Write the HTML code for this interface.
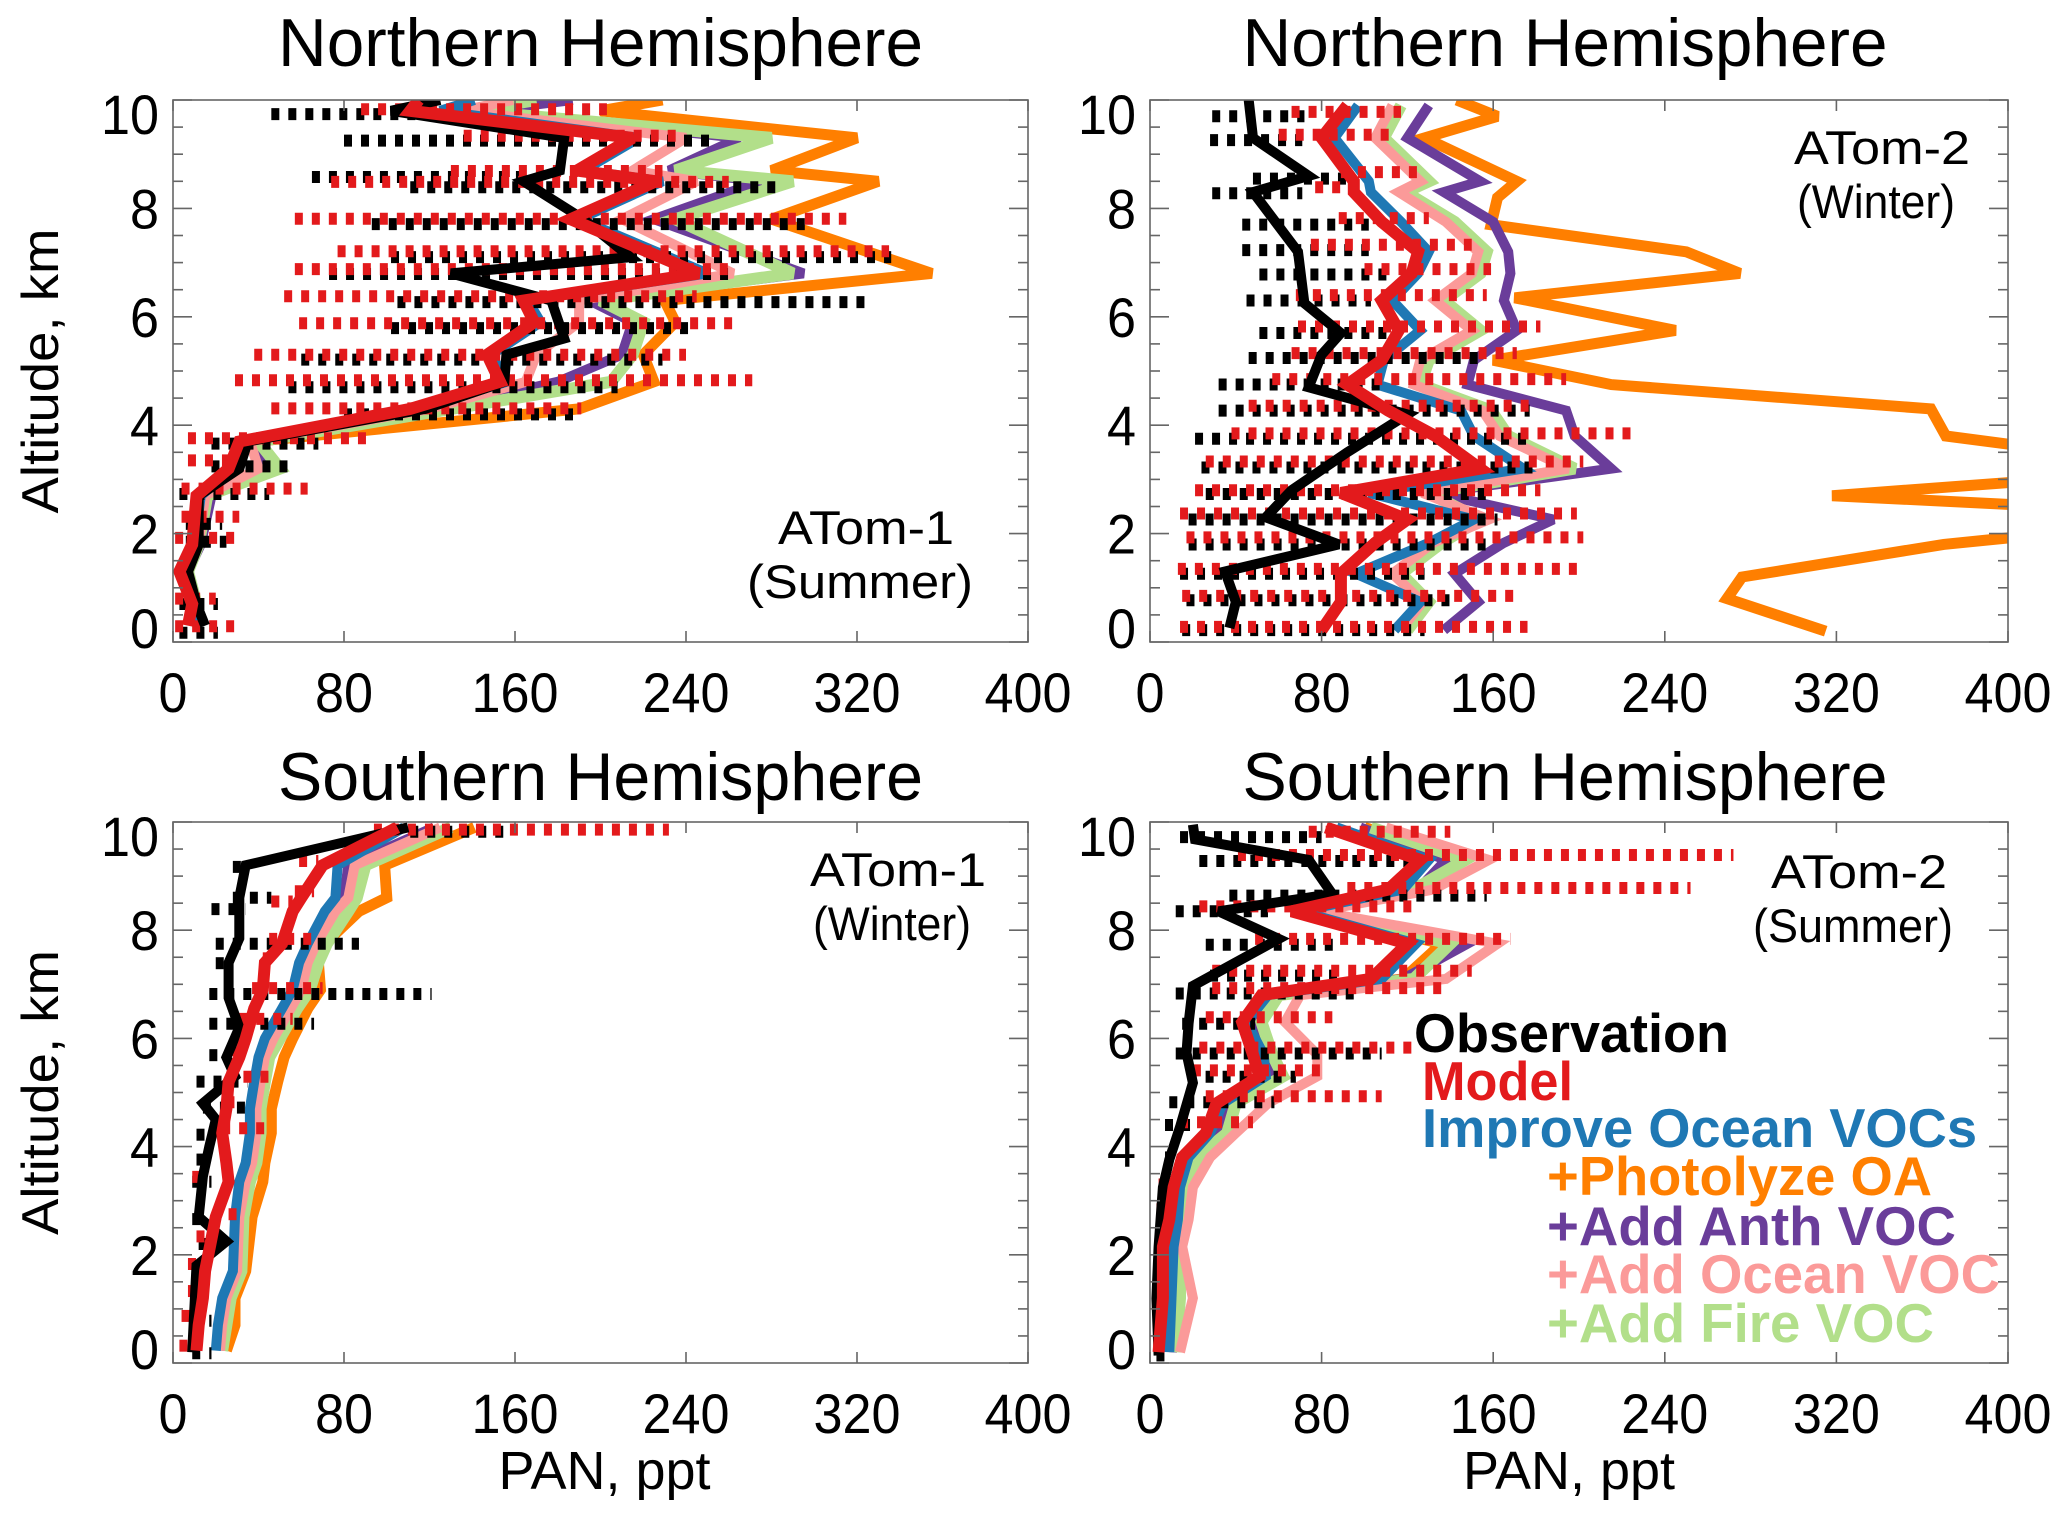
<!DOCTYPE html>
<html><head><meta charset="utf-8"><title>PAN profiles</title>
<style>
html,body{margin:0;padding:0;background:#fff;}
svg{display:block;font-family:"Liberation Sans",Arial,sans-serif;}
</style></head>
<body>
<svg id="fig" width="2067" height="1519" viewBox="0 0 2067 1519" xmlns="http://www.w3.org/2000/svg">
<rect x="0" y="0" width="2067" height="1519" fill="#fff"/>
</svg>
<script>
// ---------- Shared tick data ----------
const xTicks = [0, 80, 160, 240, 320, 400];
const yTicks = [0, 2, 4, 6, 8, 10];

// ---------- Panel 1: NH ATom-1 (Summer) ----------
const p1Alt = [10.0, 9.8, 9.3, 8.7, 8.5, 7.8, 6.8, 6.3, 5.9, 5.3, 4.8, 4.3, 3.7, 3.2, 2.7, 1.8, 1.3, 0.7, 0.3];
const p1Model = [115, 111, 215, 189, 226, 186, 246, 164, 169, 147, 153, 111, 31, 26, 11, 9, 3, 9, 7];
const p1Ocean = [141, 125, 218, 192, 229, 190, 250, 166, 172, 149, 156, 115, 33, 28, 13, 10, 5, 10, 9];
const p1Photo = [229, 200, 320, 280, 330, 280, 355, 230, 235, 220, 225, 190, 38, 45, 16, 12, 7, 11, 9];
const p1Anth = [187, 145, 265, 232, 275, 225, 295, 195, 215, 210, 180, 125, 38, 45, 18, 13, 7, 11, 9];
const p1OceanVoc = [159, 135, 240, 215, 245, 210, 262, 190, 190, 170, 165, 120, 36, 40, 15, 12, 6, 11, 9];
const p1Fire = [170, 140, 280, 235, 290, 235, 290, 200, 220, 215, 205, 130, 40, 50, 16, 12, 7, 11, 9];
const p1ObsAlt = [10.0, 9.8, 9.3, 8.7, 8.5, 7.8, 7.1, 6.8, 6.3, 5.6, 5.3, 4.8, 4.3, 3.7, 3.2, 2.7, 1.8, 1.3, 0.7, 0.3];
const p1Obs = [125, 102, 183, 181, 164, 192, 214, 130, 177, 183, 156, 155, 118, 35, 31, 12, 12, 7, 11, 15];
const p1ObsRangeAlt = [9.74, 9.25, 8.58, 8.39, 7.71, 7.1, 6.79, 6.27, 5.79, 5.21, 4.70, 4.2, 3.66, 3.24, 2.73, 2.18, 1.85, 0.7, 0.17];
const p1ObsLo = [46, 80, 65, 111, 93, 102, 73, 105, 102, 60, 54, 80, 18, 18, 3, 6, 6, 3, 3];
const p1ObsHi = [124, 251, 167, 282, 299, 336, 263, 324, 243, 229, 208, 189, 68, 57, 45, 23, 25, 21, 21];
const p1ModRangeAlt = [9.83, 9.34, 8.69, 8.49, 7.81, 7.21, 6.88, 6.38, 5.88, 5.30, 4.83, 4.31, 3.76, 3.35, 2.83, 2.31, 1.92, 0.8, 0.29];
const p1ModLo = [88, 136, 130, 74, 57, 77, 57, 52, 59, 38, 29, 46, 7, 7, 4, 4, 1, 1, 1];
const p1ModHi = [203, 236, 229, 260, 315, 335, 263, 245, 262, 240, 271, 191, 91, 26, 63, 31, 29, 20, 29];

// ---------- Panel 2: NH ATom-2 (Winter) ----------
const p2Alt = [9.9, 9.3, 8.5, 8.3, 7.75, 7.2, 6.8, 6.3, 5.75, 5.2, 4.75, 4.27, 3.8, 3.2, 2.75, 2.26, 1.83, 1.26, 0.74, 0.22];
const p2Model = [92, 80, 95, 95, 108, 125, 122, 108, 116, 108, 92, 111, 133, 154, 89, 120, 105, 89, 89, 80];
const p2Ocean = [97, 86, 102, 103, 117, 130, 125, 113, 126, 109, 106, 145, 151, 174, 102, 151, 130, 96, 126, 114];
const p2Anth = [130, 120, 154, 137, 160, 167, 168, 165, 171, 151, 148, 194, 198, 215, 133, 188, 165, 142, 153, 137];
const p2OceanVoc = [113, 105, 126, 116, 138, 153, 150, 133, 150, 126, 123, 155, 163, 195, 127, 158, 132, 113, 127, 117];
const p2Fire = [117, 109, 130, 119, 142, 157, 154, 137, 154, 130, 126, 159, 167, 198, 130, 154, 136, 117, 130, 120];
const p2PhotoAlt = [10.0, 9.7, 9.3, 8.5, 8.2, 7.7, 7.2, 6.8, 6.35, 5.75, 5.2, 4.75, 4.3, 3.8, 3.6, 3.0, 2.7, 2.5, 2.0, 1.8, 1.2, 0.8, 0.2];
const p2Photo = [143, 162, 128, 171, 162, 159, 250, 275, 170, 245, 160, 215, 364, 371, 410, 420, 318, 420, 420, 370, 276, 269, 315];
const p2ObsAlt = [10.0, 9.3, 8.6, 8.3, 7.2, 6.25, 5.7, 5.3, 4.7, 4.2, 3.5, 2.8, 2.3, 1.8, 1.3, 0.74, 0.26];
const p2Obs = [46, 48, 74, 48, 69, 72, 89, 80, 74, 120, 92, 66, 54, 88, 35, 40, 37];
const p2ObsRangeAlt = [9.7, 9.26, 8.55, 8.28, 7.7, 7.23, 6.78, 6.3, 5.7, 5.24, 4.75, 4.27, 3.75, 3.22, 2.73, 2.26, 1.8, 1.26, 0.77, 0.22];
const p2ObsLo = [29, 28, 48, 29, 43, 43, 51, 45, 51, 46, 32, 32, 21, 24, 26, 18, 18, 14, 17, 15];
const p2ObsHi = [72, 71, 92, 71, 102, 102, 111, 103, 114, 153, 111, 177, 176, 179, 157, 162, 160, 128, 142, 128];
const p2ModRangeAlt = [9.78, 9.36, 8.67, 8.39, 7.82, 7.33, 6.88, 6.4, 5.82, 5.33, 4.85, 4.36, 3.85, 3.33, 2.8, 2.37, 1.93, 1.35, 0.85, 0.28];
const p2ModLo = [66, 60, 89, 77, 88, 75, 100, 68, 69, 66, 57, 46, 38, 26, 21, 14, 17, 13, 15, 14];
const p2ModHi = [117, 114, 125, 96, 130, 150, 159, 157, 182, 171, 194, 177, 224, 202, 182, 199, 202, 199, 171, 176];

// ---------- Panel 3: SH ATom-1 (Winter) ----------
const p3Alt = [9.9, 9.2, 8.6, 8.35, 7.75, 7.4, 6.9, 6.55, 6.0, 5.65, 5.2, 4.7, 4.25, 3.7, 3.35, 2.7, 1.7, 1.2, 0.7, 0.23];
const p3Model = [105, 70, 60, 56, 51, 43, 42, 38, 34, 31, 26, 25, 23, 25, 26, 20, 15, 14, 12, 11];
const p3Ocean = [108, 77, 76, 71, 63, 59, 56, 51, 43, 40, 38, 36, 36, 34, 31, 29, 28, 23, 21, 20];
const p3Photo = [141, 99, 100, 87, 71, 68, 69, 63, 56, 52, 49, 46, 46, 43, 42, 37, 34, 29, 29, 25];
const p3Anth = [122, 82, 80, 74, 66, 62, 59, 54, 46, 42, 41, 39, 39, 37, 34, 31, 30, 25, 23, 22];
const p3OceanVoc = [125, 85, 82, 76, 67, 63, 60, 55, 47, 43, 41, 39, 39, 37, 34, 31, 30, 25, 23, 22];
const p3Fire = [130, 90, 86, 82, 72, 68, 64, 58, 50, 45, 43, 41, 41, 39, 36, 33, 32, 27, 25, 23];
const p3ObsAlt = [9.9, 9.2, 8.6, 7.85, 7.4, 6.75, 6.2, 5.65, 5.3, 4.8, 4.5, 4.0, 3.45, 2.7, 2.25, 1.8, 0.2];
const p3Obs = [110, 34, 31, 31, 26, 26, 31, 25, 29, 14, 20, 17, 14, 12, 25, 11, 9];
const p3ObsRangeAlt = [9.82, 9.17, 8.6, 8.39, 7.75, 7.39, 6.82, 6.27, 5.69, 5.2, 4.72, 4.22, 3.76, 3.35, 2.66, 2.2, 1.79, 0.78, 0.18];
const p3ObsLo = [111, 28, 28, 18, 20, 20, 17, 17, 17, 11, 14, 11, 11, 9, 9, 12, 9, 9, 9];
const p3ObsHi = [155, 31, 46, 34, 87, 23, 121, 66, 21, 35, 35, 14, 18, 18, 12, 26, 12, 18, 18];
const p3ModRangeAlt = [9.86, 9.28, 8.72, 8.53, 7.84, 7.48, 6.93, 6.36, 5.78, 5.29, 4.82, 4.34, 3.44, 2.75, 2.34, 1.83, 1.33, 0.87, 0.32];
const p3ModLo = [94, 59, 57, 46, 45, 42, 37, 31, 26, 25, 25, 23, 9, 26, 11, 7, 7, 4, 3];
const p3ModHi = [232, 68, 66, 56, 68, 45, 70, 56, 28, 48, 26, 45, 17, 26, 11, 7, 7, 4, 3];

// ---------- Panel 4: SH ATom-2 (Summer) ----------
const p4Alt = [9.9, 9.3, 8.75, 8.35, 7.75, 7.1, 6.8, 6.3, 5.7, 5.3, 4.8, 4.25, 3.8, 3.25, 2.65, 2.15, 1.2, 0.2];
const p4Model = [82, 126, 111, 66, 120, 103, 52, 43, 48, 51, 31, 26, 15, 11, 9, 6, 6, 4];
const p4Ocean = [87, 130, 118, 70, 124, 108, 55, 45, 53, 54, 34, 28, 18, 14, 13, 11, 10, 9];
const p4Photo = [100, 146, 125, 73, 136, 118, 60, 50, 55, 62, 38, 33, 20, 16, 14, 12, 12, 10];
const p4Anth = [98, 138, 125, 73, 148, 118, 58, 48, 55, 58, 38, 33, 20, 16, 14, 12, 12, 10];
const p4OceanVoc = [110, 158, 132, 78, 162, 138, 70, 63, 78, 78, 55, 40, 28, 20, 18, 15, 20, 14];
const p4Fire = [103, 147, 123, 75, 140, 123, 60, 52, 57, 62, 40, 36, 22, 18, 16, 14, 14, 12];
const p4ObsAlt = [9.95, 9.68, 9.3, 8.67, 8.35, 7.84, 6.97, 6.28, 5.73, 5.18, 4.36, 3.76, 3.25, 2.15, 1.19, 0.14];
const p4Obs = [20, 21, 74, 85, 32, 60, 20, 18, 17, 20, 14, 9, 6, 4, 3, 4];
const p4ObsRangeAlt = [9.72, 9.28, 8.64, 8.35, 7.73, 7.16, 6.83, 6.27, 5.72, 5.29, 4.82, 4.4, 3.8, 3.26, 0.14];
const p4ObsLo = [14, 23, 37, 12, 26, 28, 12, 15, 12, 18, 9, 7, 7, 5, 3];
const p4ObsHi = [80, 122, 157, 55, 86, 91, 96, 49, 108, 68, 58, 21, 11, 5, 6];
const p4ModRangeAlt = [9.82, 9.39, 8.78, 8.44, 7.84, 7.25, 6.93, 6.39, 5.83, 5.41, 4.93, 4.45, 3.3, 2.84, 2.34, 1.88, 0.32];
const p4ModLo = [74, 41, 92, 23, 49, 29, 29, 26, 23, 20, 26, 14, 4, 3, 3, 3, 3];
const p4ModHi = [140, 272, 252, 122, 168, 150, 136, 85, 123, 82, 108, 48, 4, 3, 3, 3, 3];

// ---------- Drawing ----------
const NS = 'http://www.w3.org/2000/svg';
const svg = document.getElementById('fig');
const COL = {obs:'#000000', model:'#e31a1c', ocean:'#1f78b4', photo:'#ff7f00', anth:'#6a3d9a', oceanvoc:'#fb9a99', fire:'#b2df8a'};

function mk(tag, attrs, parent) {
  const e = document.createElementNS(NS, tag);
  for (const k in attrs) e.setAttribute(k, attrs[k]);
  (parent || svg).appendChild(e);
  return e;
}
function txt(str, attrs, parent) {
  const t = mk('text', attrs, parent);
  t.textContent = str;
  return t;
}

function drawPanel(P) {
  const g = mk('g', {});
  
  
  const xS = v => P.x0 + (v / 400) * (P.x1 - P.x0);
  const yS = a => P.y1 - (a / 10) * (P.y1 - P.y0);

  const cid = 'clip-' + P.name;
  const cp = mk('clipPath', {id: cid}, g);
  mk('rect', {x: P.x0, y: P.y0, width: P.x1 - P.x0, height: P.y1 - P.y0}, cp);
  const plot = mk('g', {'clip-path': 'url(#' + cid + ')'}, g);
  
  

  function line(alts, vals, color, w, nm) {
    const pts = vals.map((v, i) => xS(v).toFixed(1) + ',' + yS(alts[i]).toFixed(1)).join(' ');
    const pl = mk('polyline', {points: pts, fill: 'none', stroke: color, 'stroke-width': w, 'stroke-linejoin': 'miter', 'stroke-miterlimit': 3}, plot);
    
    
  }
  function ranges(alts, lo, hi, color, nm) {
    alts.forEach((a, i) => {
      const xa = xS(lo[i]);
      const xb = Math.max(xS(hi[i]), xa + 8);
      const ln = mk('line', {x1: xa, y1: yS(a), x2: xb, y2: yS(a), stroke: color, 'stroke-width': 12, 'stroke-dasharray': '8 9'}, plot);
      
      
    });
  }

  line(P.photoAlt || P.alt, P.photo, COL.photo, 11, 'photolyze-oa-line');
  line(P.alt, P.anth, COL.anth, 10, 'add-anth-voc-line');
  line(P.alt, P.fire, COL.fire, 12, 'add-fire-voc-line');
  line(P.alt, P.oceanvoc, COL.oceanvoc, 10, 'add-ocean-voc-line');
  line(P.alt, P.ocean, COL.ocean, 10, 'improve-ocean-vocs-line');
  ranges(P.obsRAlt, P.obsLo, P.obsHi, COL.obs, 'observation-range');
  ranges(P.modRAlt, P.modLo, P.modHi, COL.model, 'model-range');
  line(P.obsAlt, P.obs, COL.obs, 10, 'observation-line');
  line(P.alt, P.model, COL.model, 12, 'model-line');

  const box = mk('rect', {x: P.x0, y: P.y0, width: P.x1 - P.x0, height: P.y1 - P.y0, fill: 'none', stroke: '#666', 'stroke-width': 1.6}, g);
  
  

  xTicks.forEach(v => {
    const x = xS(v);
    mk('line', {x1: x, y1: P.y1, x2: x, y2: P.y1 - 11, stroke: '#666', 'stroke-width': 1.6}, g);
    mk('line', {x1: x, y1: P.y0, x2: x, y2: P.y0 + 11, stroke: '#666', 'stroke-width': 1.6}, g);
    const s = String(v);
    const t = txt(s, {x: x, y: P.y1 + 70, 'font-size': 56, 'text-anchor': 'middle', fill: '#000', textLength: 29 * s.length, lengthAdjust: 'spacingAndGlyphs'}, g);
    
    
  });
  for (let a = 0; a <= 10.001; a += 0.5) {
    const y = yS(a);
    const major = Math.abs(a / 2 - Math.round(a / 2)) < 1e-6;
    const len = major ? 19 : 10;
    mk('line', {x1: P.x0, y1: y, x2: P.x0 + len, y2: y, stroke: '#666', 'stroke-width': 1.6}, g);
    mk('line', {x1: P.x1, y1: y, x2: P.x1 - len, y2: y, stroke: '#666', 'stroke-width': 1.6}, g);
  }
  yTicks.forEach(v => {
    let yc = yS(v);
    if (v === 10) yc += 14;
    if (v === 0) yc -= 14;
    const s = String(v);
    const t = txt(s, {x: P.x0 - 14, y: yc + 20, 'font-size': 56, 'text-anchor': 'end', fill: '#000', textLength: 29 * s.length, lengthAdjust: 'spacingAndGlyphs'}, g);
    
    
  });

  const ti = txt(P.title, {x: (P.x0 + P.x1) / 2 + (P.titleDx || 0), y: P.titleY, 'font-size': 68, 'text-anchor': 'middle', fill: '#000', textLength: 645, lengthAdjust: 'spacingAndGlyphs'}, g);
  
  

  const c1 = txt(P.camp, {x: P.annX, y: P.annY, 'font-size': 47, 'text-anchor': 'middle', fill: '#000', textLength: 176, lengthAdjust: 'spacingAndGlyphs'}, g);
  
  
  const c2 = txt(P.season, {x: P.annX - 6, y: P.annY + 54, 'font-size': 47, 'text-anchor': 'middle', fill: '#000', textLength: P.seasonW, lengthAdjust: 'spacingAndGlyphs'}, g);
  
  

  if (P.ylabel) {
    const yl = txt('Altitude, km', {x: 0, y: 0, 'font-size': 52, 'text-anchor': 'middle', fill: '#000', textLength: 285, lengthAdjust: 'spacingAndGlyphs', transform: 'translate(58,' + ((P.y0 + P.y1) / 2) + ') rotate(-90)'}, g);
    
    
  }
  if (P.xlabel) {
    const xl = txt('PAN, ppt', {x: (P.x0 + P.x1) / 2 + 4 + (P.titleDx || 0), y: P.y1 + 126, 'font-size': 54, 'text-anchor': 'middle', fill: '#000', textLength: 212, lengthAdjust: 'spacingAndGlyphs'}, g);
    
    
  }
}

drawPanel({name: 'panel-nh-atom1', x0: 173, x1: 1028, y0: 100, y1: 642, title: 'Northern Hemisphere', titleY: 66,
  camp: 'ATom-1', season: '(Summer)', seasonW: 226, annX: 866, annY: 544, ylabel: true,
  alt: p1Alt, model: p1Model, ocean: p1Ocean, photo: p1Photo, anth: p1Anth, oceanvoc: p1OceanVoc, fire: p1Fire,
  obsAlt: p1ObsAlt, obs: p1Obs, obsRAlt: p1ObsRangeAlt, obsLo: p1ObsLo, obsHi: p1ObsHi,
  modRAlt: p1ModRangeAlt, modLo: p1ModLo, modHi: p1ModHi});
drawPanel({name: 'panel-nh-atom2', x0: 1150, x1: 2008, y0: 100, y1: 642, title: 'Northern Hemisphere', titleY: 66, titleDx: -14,
  camp: 'ATom-2', season: '(Winter)', seasonW: 158, annX: 1882, annY: 164,
  alt: p2Alt, model: p2Model, ocean: p2Ocean, photo: p2Photo, photoAlt: p2PhotoAlt, anth: p2Anth, oceanvoc: p2OceanVoc, fire: p2Fire,
  obsAlt: p2ObsAlt, obs: p2Obs, obsRAlt: p2ObsRangeAlt, obsLo: p2ObsLo, obsHi: p2ObsHi,
  modRAlt: p2ModRangeAlt, modLo: p2ModLo, modHi: p2ModHi});
drawPanel({name: 'panel-sh-atom1', x0: 173, x1: 1028, y0: 822, y1: 1363, title: 'Southern Hemisphere', titleY: 800,
  camp: 'ATom-1', season: '(Winter)', seasonW: 158, annX: 898, annY: 886, ylabel: true, xlabel: true,
  alt: p3Alt, model: p3Model, ocean: p3Ocean, photo: p3Photo, anth: p3Anth, oceanvoc: p3OceanVoc, fire: p3Fire,
  obsAlt: p3ObsAlt, obs: p3Obs, obsRAlt: p3ObsRangeAlt, obsLo: p3ObsLo, obsHi: p3ObsHi,
  modRAlt: p3ModRangeAlt, modLo: p3ModLo, modHi: p3ModHi});
drawPanel({name: 'panel-sh-atom2', x0: 1150, x1: 2008, y0: 822, y1: 1363, title: 'Southern Hemisphere', titleY: 800, titleDx: -14,
  camp: 'ATom-2', season: '(Summer)', seasonW: 200, annX: 1859, annY: 888, xlabel: true,
  alt: p4Alt, model: p4Model, ocean: p4Ocean, photo: p4Photo, anth: p4Anth, oceanvoc: p4OceanVoc, fire: p4Fire,
  obsAlt: p4ObsAlt, obs: p4Obs, obsRAlt: p4ObsRangeAlt, obsLo: p4ObsLo, obsHi: p4ObsHi,
  modRAlt: p4ModRangeAlt, modLo: p4ModLo, modHi: p4ModHi});

// ---------- Legend ----------
const legendLabels = ['Observation', 'Model', 'Improve Ocean VOCs', '+Photolyze OA', '+Add Anth VOC', '+Add Ocean VOC', '+Add Fire VOC'];
const legendColors = [COL.obs, COL.model, COL.ocean, COL.photo, COL.anth, COL.oceanvoc, COL.fire];
const legendX = [1414, 1422, 1422, 1547, 1547, 1547, 1547];
const legendY = [1052, 1100, 1147, 1195, 1245, 1293, 1342];
const legendW = [315, 151, 555, 385, 409, 453, 387];
const lg = mk('g', {});


legendLabels.forEach((s, i) => {
  const t = txt(s, {x: legendX[i], y: legendY[i], 'font-size': 55, 'font-weight': 'bold', fill: legendColors[i], textLength: legendW[i], lengthAdjust: 'spacingAndGlyphs'}, lg);
  
  
});
</script>
</body></html>
